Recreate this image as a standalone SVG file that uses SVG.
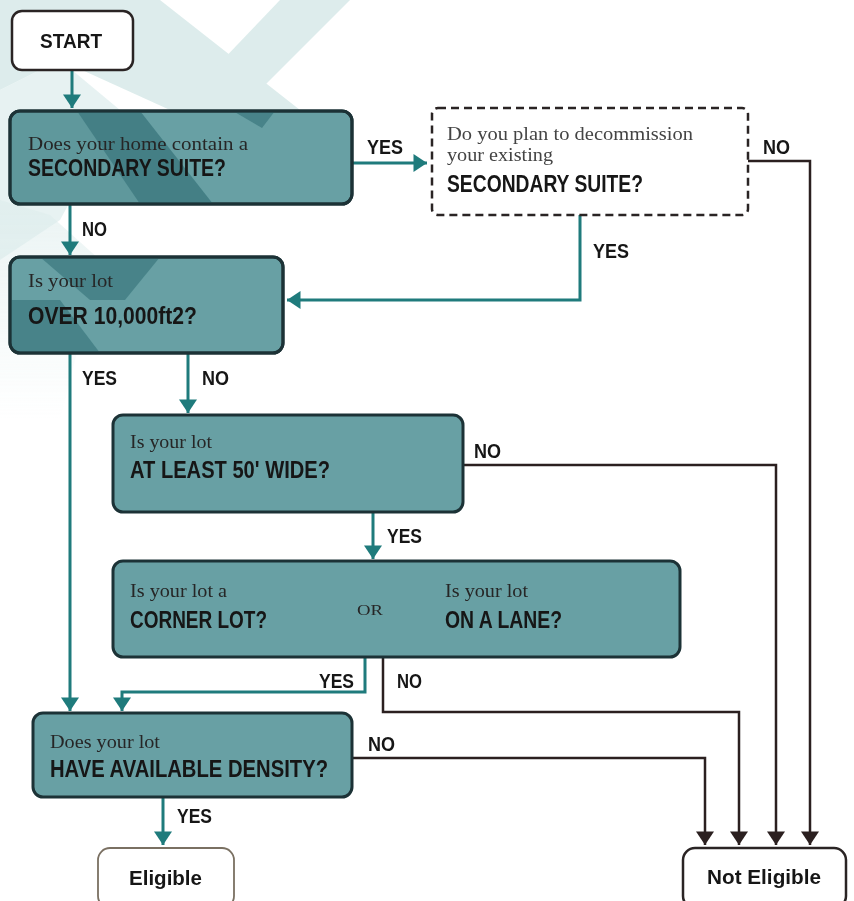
<svg xmlns="http://www.w3.org/2000/svg" width="854" height="901" viewBox="0 0 854 901">
<style>
.bg{fill:#ffffff}
.wm{fill:#c6e0df}
.box{fill:#68a0a4;stroke:#1c3236;stroke-width:3}
.term{fill:#ffffff;stroke:#2a2424;stroke-width:2.5}
.termlite{fill:#ffffff;stroke:#7a7062;stroke-width:1.8}
.dash{fill:#ffffff;stroke:#2a2424;stroke-width:2.5;stroke-dasharray:8 5}
.ser{font-family:"Liberation Serif","DejaVu Serif",serif;font-size:18px;fill:#262626}
.serl{font-family:"Liberation Serif","DejaVu Serif",serif;font-size:18px;fill:#444444}
.bold{font-family:"Liberation Sans",Arial,sans-serif;font-weight:bold;font-size:23px;fill:#161616}
.lbl{font-family:"Liberation Sans",Arial,sans-serif;font-weight:bold;font-size:21px;fill:#161616}
.teal{fill:none;stroke:#1f7b7c;stroke-width:3}
.dark{fill:none;stroke:#2b2020;stroke-width:2.5}
.ov{fill:#2d6b72;opacity:0.55}
</style>
<defs>
<marker id="ahT" markerUnits="userSpaceOnUse" markerWidth="14" markerHeight="18" viewBox="0 -8 12 16" refX="12" refY="0" orient="auto">
<path d="M0,-8 L12,0 L0,8 z" fill="#1f7b7c"/>
</marker>
<marker id="ahD" markerUnits="userSpaceOnUse" markerWidth="14" markerHeight="18" viewBox="0 -8 12 16" refX="12" refY="0" orient="auto">
<path d="M0,-8 L12,0 L0,8 z" fill="#2b2020"/>
</marker>
<linearGradient id="fade" x1="0" y1="0" x2="0" y2="1">
<stop offset="0" stop-color="#c6e0df" stop-opacity="1"/>
<stop offset="1" stop-color="#c6e0df" stop-opacity="0"/>
</linearGradient>
<clipPath id="c1"><rect x="10" y="111" width="342" height="93" rx="10"/></clipPath>
<clipPath id="c2"><rect x="10" y="257" width="273" height="96" rx="10"/></clipPath>
</defs>
<rect class="bg" x="0" y="0" width="854" height="901"/>
<g id="watermark" opacity="0.6">
<polygon class="wm" points="0,0 160,0 300,110 170,110 60,60 0,90"/>
<polygon class="wm" points="280,0 350,0 240,110 175,110"/>
<polygon class="wm" points="0,90 60,60 120,110 60,220 0,260" opacity="0.7"/>
<polygon points="0,200 50,215 100,260 60,420 0,420" fill="url(#fade)" opacity="0.6"/>
</g>
<g id="connectors">
<path class="teal" d="M72,70 V108" marker-end="url(#ahT)"/>
<path class="teal" d="M352,163 H427" marker-end="url(#ahT)"/>
<path class="teal" d="M70,204 V255" marker-end="url(#ahT)"/>
<path class="teal" d="M580,215 V300 H287" marker-end="url(#ahT)"/>
<path class="teal" d="M70,353 V711" marker-end="url(#ahT)"/>
<path class="teal" d="M188,353 V413" marker-end="url(#ahT)"/>
<path class="teal" d="M373,512 V559" marker-end="url(#ahT)"/>
<path class="teal" d="M365,657 V692 H122 V711" marker-end="url(#ahT)"/>
<path class="teal" d="M163,797 V845" marker-end="url(#ahT)"/>
<path class="dark" d="M748,161 H810 V845" marker-end="url(#ahD)"/>
<path class="dark" d="M463,465 H776 V845" marker-end="url(#ahD)"/>
<path class="dark" d="M383,657 V712 H739 V845" marker-end="url(#ahD)"/>
<path class="dark" d="M352,758 H705 V845" marker-end="url(#ahD)"/>
<text class="lbl" x="367" y="154" textLength="36" lengthAdjust="spacingAndGlyphs">YES</text>
<text class="lbl" x="763" y="154" textLength="27" lengthAdjust="spacingAndGlyphs">NO</text>
<text class="lbl" x="593" y="258" textLength="36" lengthAdjust="spacingAndGlyphs">YES</text>
<text class="lbl" x="82" y="236" textLength="25" lengthAdjust="spacingAndGlyphs">NO</text>
<text class="lbl" x="82" y="385" textLength="35" lengthAdjust="spacingAndGlyphs">YES</text>
<text class="lbl" x="202" y="385" textLength="27" lengthAdjust="spacingAndGlyphs">NO</text>
<text class="lbl" x="474" y="458" textLength="27" lengthAdjust="spacingAndGlyphs">NO</text>
<text class="lbl" x="387" y="543" textLength="35" lengthAdjust="spacingAndGlyphs">YES</text>
<text class="lbl" x="319" y="688" textLength="35" lengthAdjust="spacingAndGlyphs">YES</text>
<text class="lbl" x="397" y="688" textLength="25" lengthAdjust="spacingAndGlyphs">NO</text>
<text class="lbl" x="368" y="751" textLength="27" lengthAdjust="spacingAndGlyphs">NO</text>
<text class="lbl" x="177" y="823" textLength="35" lengthAdjust="spacingAndGlyphs">YES</text>
</g>
<g id="start">
<rect class="term" x="12" y="11" width="121" height="59" rx="10"/>
<text class="lbl" x="40" y="48" textLength="62" lengthAdjust="spacingAndGlyphs">START</text>
</g>
<g id="q-suite">
<rect class="box" x="10" y="111" width="342" height="93" rx="10"/>
<g clip-path="url(#c1)">
<polygon class="ov" points="77,111 140,111 213,204 140,204"/>
<polygon class="ov" points="233,111 275,111 262,128" opacity="0.4"/>
<polygon points="213,204 140,111 10,111 10,204" fill="#2d6b72" opacity="0.15"/>
</g>
<rect x="10" y="111" width="342" height="93" rx="10" fill="none" stroke="#1c3236" stroke-width="3"/>
<text class="ser" x="28" y="150" textLength="220" lengthAdjust="spacingAndGlyphs">Does your home contain a</text>
<text class="bold" x="28" y="176" textLength="198" lengthAdjust="spacingAndGlyphs">SECONDARY SUITE?</text>
</g>
<g id="q-decommission">
<rect class="dash" x="432" y="108" width="316" height="107" rx="6"/>
<text class="serl" x="447" y="140" textLength="246" lengthAdjust="spacingAndGlyphs">Do you plan to decommission</text>
<text class="serl" x="447" y="161" textLength="106" lengthAdjust="spacingAndGlyphs">your existing</text>
<text class="bold" x="447" y="192" textLength="196" lengthAdjust="spacingAndGlyphs">SECONDARY SUITE?</text>
</g>
<g id="q-lotsize">
<rect class="box" x="10" y="257" width="273" height="96" rx="10"/>
<g clip-path="url(#c2)">
<polygon class="ov" points="40,257 160,257 125,300 90,300"/>
<polygon class="ov" points="10,300 60,300 100,353 10,353"/>
</g>
<rect x="10" y="257" width="273" height="96" rx="10" fill="none" stroke="#1c3236" stroke-width="3"/>
<text class="ser" x="28" y="287" textLength="85" lengthAdjust="spacingAndGlyphs">Is your lot</text>
<text class="bold" x="28" y="324" textLength="169" lengthAdjust="spacingAndGlyphs">OVER 10,000ft2?</text>
</g>
<g id="q-width">
<rect class="box" x="113" y="415" width="350" height="97" rx="10"/>
<text class="ser" x="130" y="448" textLength="82" lengthAdjust="spacingAndGlyphs">Is your lot</text>
<text class="bold" x="130" y="478" textLength="200" lengthAdjust="spacingAndGlyphs">AT LEAST 50' WIDE?</text>
</g>
<g id="q-corner">
<rect class="box" x="113" y="561" width="567" height="96" rx="10"/>
<text class="ser" x="130" y="597" textLength="97" lengthAdjust="spacingAndGlyphs">Is your lot a</text>
<text class="bold" x="130" y="628" textLength="137" lengthAdjust="spacingAndGlyphs">CORNER LOT?</text>
<text class="ser" x="357" y="615" style="font-size:15px" textLength="26" lengthAdjust="spacingAndGlyphs">OR</text>
<text class="ser" x="445" y="597" textLength="83" lengthAdjust="spacingAndGlyphs">Is your lot</text>
<text class="bold" x="445" y="628" textLength="117" lengthAdjust="spacingAndGlyphs">ON A LANE?</text>
</g>
<g id="q-density">
<rect class="box" x="33" y="713" width="319" height="84" rx="10"/>
<text class="ser" x="50" y="748" textLength="110" lengthAdjust="spacingAndGlyphs">Does your lot</text>
<text class="bold" x="50" y="777" textLength="278" lengthAdjust="spacingAndGlyphs">HAVE AVAILABLE DENSITY?</text>
</g>
<g id="eligible">
<rect class="termlite" x="98" y="848" width="136" height="60" rx="12"/>
<text class="lbl" x="129" y="885" textLength="73" lengthAdjust="spacingAndGlyphs">Eligible</text>
</g>
<g id="not-eligible">
<rect class="term" x="683" y="848" width="163" height="60" rx="12"/>
<text class="lbl" x="707" y="884" textLength="114" lengthAdjust="spacingAndGlyphs">Not Eligible</text>
</g>
</svg>
